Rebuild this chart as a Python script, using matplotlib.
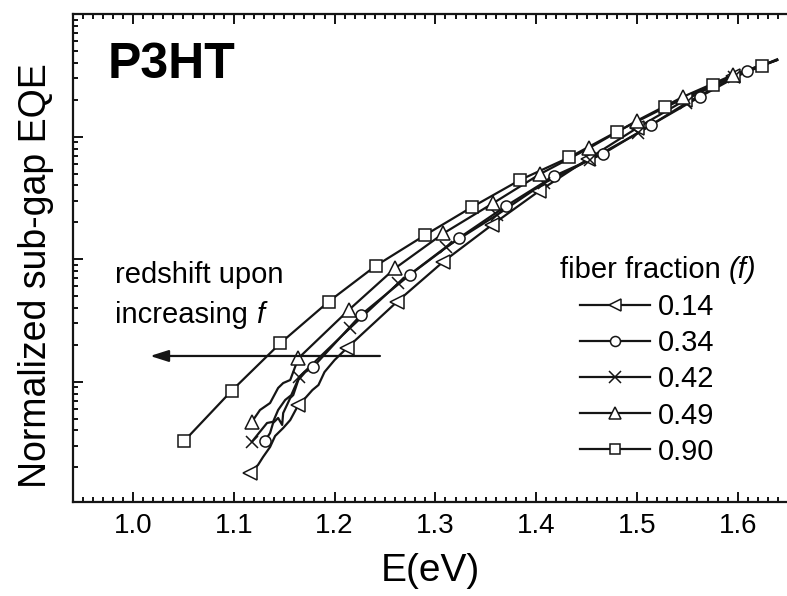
import numpy as np
import matplotlib
matplotlib.use("Agg")
import matplotlib.pyplot as plt
from matplotlib.lines import Line2D

plt.rcParams['font.family'] = ['Liberation Sans', 'DejaVu Sans']

# ---------------- data (y given as log10 of normalized EQE) ----------------
fractions = ["0.14", "0.34", "0.42", "0.49", "0.90"]
markers = ["<", "o", "x", "^", "s"]

e_014 = [1.116, 1.124, 1.129, 1.136, 1.141, 1.149, 1.156, 1.164, 1.171, 1.178, 1.184, 1.190,
         1.200, 1.212, 1.262, 1.308, 1.356, 1.403, 1.451, 1.500, 1.548, 1.595, 1.639]
log_014 = [-3.743, -3.680, -3.615, -3.533, -3.443, -3.378, -3.313, -3.190, -3.133, -3.068, -3.027,
           -2.921, -2.823, -2.727, -2.347, -2.019, -1.721, -1.443, -1.184, -0.929, -0.700, -0.504, -0.374]
mk_014 = [0, 7, 13, 14, 15, 16, 17, 18, 19, 20, 21]

e_034 = [1.131, 1.136, 1.139, 1.144, 1.148, 1.149, 1.156, 1.159, 1.164, 1.171, 1.179, 1.226,
         1.275, 1.323, 1.370, 1.418, 1.466, 1.514, 1.562, 1.609, 1.624]
log_034 = [-3.482, -3.419, -3.337, -3.296, -3.353, -3.256, -3.133, -3.109, -2.986, -2.921, -2.878,
           -2.456, -2.125, -1.829, -1.566, -1.320, -1.141, -0.904, -0.676, -0.464, -0.407]
mk_034 = [0, 10, 11, 12, 13, 14, 15, 16, 17, 18, 19]

e_042 = [1.118, 1.126, 1.133, 1.139, 1.144, 1.151, 1.157, 1.165, 1.215, 1.263, 1.311, 1.361,
         1.408, 1.453, 1.501, 1.549, 1.596, 1.639]
log_042 = [-3.490, -3.408, -3.337, -3.327, -3.231, -3.149, -3.110, -2.960, -2.564, -2.197, -1.898,
           -1.639, -1.378, -1.190, -0.970, -0.725, -0.513, -0.374]
mk_042 = [0, 7, 8, 9, 10, 11, 12, 13, 14, 15, 16]

e_049 = [1.118, 1.126, 1.136, 1.144, 1.149, 1.156, 1.164, 1.214, 1.260, 1.308, 1.357, 1.404,
         1.452, 1.500, 1.546, 1.595, 1.639]
log_049 = [-3.327, -3.231, -3.174, -3.051, -3.011, -2.986, -2.809, -2.415, -2.074, -1.789, -1.544,
           -1.304, -1.095, -0.869, -0.673, -0.496, -0.374]
mk_049 = [0, 6, 7, 8, 9, 10, 11, 12, 13, 14, 15]

e_090 = [1.051, 1.098, 1.146, 1.194, 1.241, 1.290, 1.336, 1.384, 1.433, 1.480, 1.528, 1.575,
         1.624, 1.639]
log_090 = [-3.482, -3.073, -2.687, -2.347, -2.053, -1.802, -1.576, -1.353, -1.168, -0.959, -0.760,
           -0.578, -0.420, -0.368]
mk_090 = list(range(13))

x_ticks = [1.0, 1.1, 1.2, 1.3, 1.4, 1.5, 1.6]
x_tick_labels = ["1.0", "1.1", "1.2", "1.3", "1.4", "1.5", "1.6"]

arrow_e = (1.245, 1.017)     # tail, head (eV)
arrow_log = -2.79

series = [
    (e_014, log_014, mk_014),
    (e_034, log_034, mk_034),
    (e_042, log_042, mk_042),
    (e_049, log_049, mk_049),
    (e_090, log_090, mk_090),
]
msizes = {"<": 10, "o": 8, "x": 9, "^": 10, "s": 8.5}

# ---------------- figure ----------------
W, H = 787, 596
fig = plt.figure(figsize=(W / 100, H / 100), dpi=100)
ax = fig.add_axes([73 / W, (H - 502) / H, (W - 73) / W, (502 - 14.2) / H])

col = "#151515"
for (e, lg, mk), m in zip(series, markers):
    y = 10 ** np.array(lg)
    ax.plot(e, y, "-", color=col, lw=1.6, zorder=2)
    ax.plot(np.array(e)[mk], y[mk], ls="none", marker=m, ms=msizes[m], mfc="white",
            mec=col, mew=1.1, zorder=3)

ax.set_yscale("log")
ax.set_xlim(0.9405, 1.6488)
ax.set_ylim(10 ** -3.982, 1.0)

# ticks
ax.set_xticks(x_ticks)
ax.set_xticklabels(x_tick_labels, fontsize=20)
ax.set_xticks(np.arange(0.95, 1.65, 0.01), minor=True)
ax.tick_params(axis="x", which="both", direction="in", top=True, bottom=True, width=1.3, pad=8)
ax.tick_params(axis="x", which="major", length=7)
ax.tick_params(axis="x", which="minor", length=3.6)
ax.yaxis.set_major_locator(matplotlib.ticker.LogLocator(base=10, numticks=10))
ax.yaxis.set_minor_locator(matplotlib.ticker.LogLocator(base=10, subs=np.arange(2, 10), numticks=20))
ax.yaxis.set_major_formatter(matplotlib.ticker.NullFormatter())
ax.yaxis.set_minor_formatter(matplotlib.ticker.NullFormatter())
ax.tick_params(axis="y", which="both", direction="in", left=True, right=False, width=1.3)
ax.tick_params(axis="y", which="major", length=7)
ax.tick_params(axis="y", which="minor", length=3.6)
for s in ["left", "bottom", "top"]:
    ax.spines[s].set_linewidth(1.6)
    ax.spines[s].set_color(col)
ax.spines["right"].set_visible(False)

ax.set_xlabel("E(eV)", fontsize=28, labelpad=10)
fig.text(36 / W, 1 - 276 / H, "Normalized sub-gap EQE", rotation=90, fontsize=27,
         ha="center", va="center")

# P3HT
fig.text(108 / W, 1 - 78 / H, "P3HT", fontsize=36, fontweight="bold", ha="left", va="baseline")

# annotation
fig.text(115 / W, 1 - 283 / H, "redshift upon", fontsize=21, ha="left", va="baseline")
t_inc = fig.text(115 / W, 1 - 323 / H, "increasing ", fontsize=21, ha="left", va="baseline")
ax.annotate("f", xy=(1, 0), xycoords=t_inc, fontsize=21, style="italic", ha="left", va="bottom")

ax.annotate("", xy=(arrow_e[1], 10 ** arrow_log), xytext=(arrow_e[0], 10 ** arrow_log),
            arrowprops=dict(arrowstyle="-|>,head_length=1.1,head_width=0.35", color=col, lw=1.6,
                            shrinkA=0, shrinkB=0))

# legend
t_leg = fig.text(560 / W, 1 - 278 / H, "fiber fraction ", fontsize=21, ha="left", va="baseline")
ax.annotate("(f)", xy=(1, 0), xycoords=t_leg, fontsize=21, style="italic", ha="left", va="bottom")
handles = [Line2D([], [], color=col, lw=1.6, marker=m, ms=msizes[m] * 0.9, mfc="white",
                  mec=col, mew=1.1) for m in markers]
leg = ax.legend(handles, fractions, loc="upper left", bbox_to_anchor=(580 / W, 1 - 293 / H),
                bbox_transform=fig.transFigure, frameon=False, fontsize=21, borderpad=0,
                borderaxespad=0, handlelength=2.4, handletextpad=0.28, labelspacing=0.28,
                numpoints=1)

fig.savefig("out.png", dpi=100)
